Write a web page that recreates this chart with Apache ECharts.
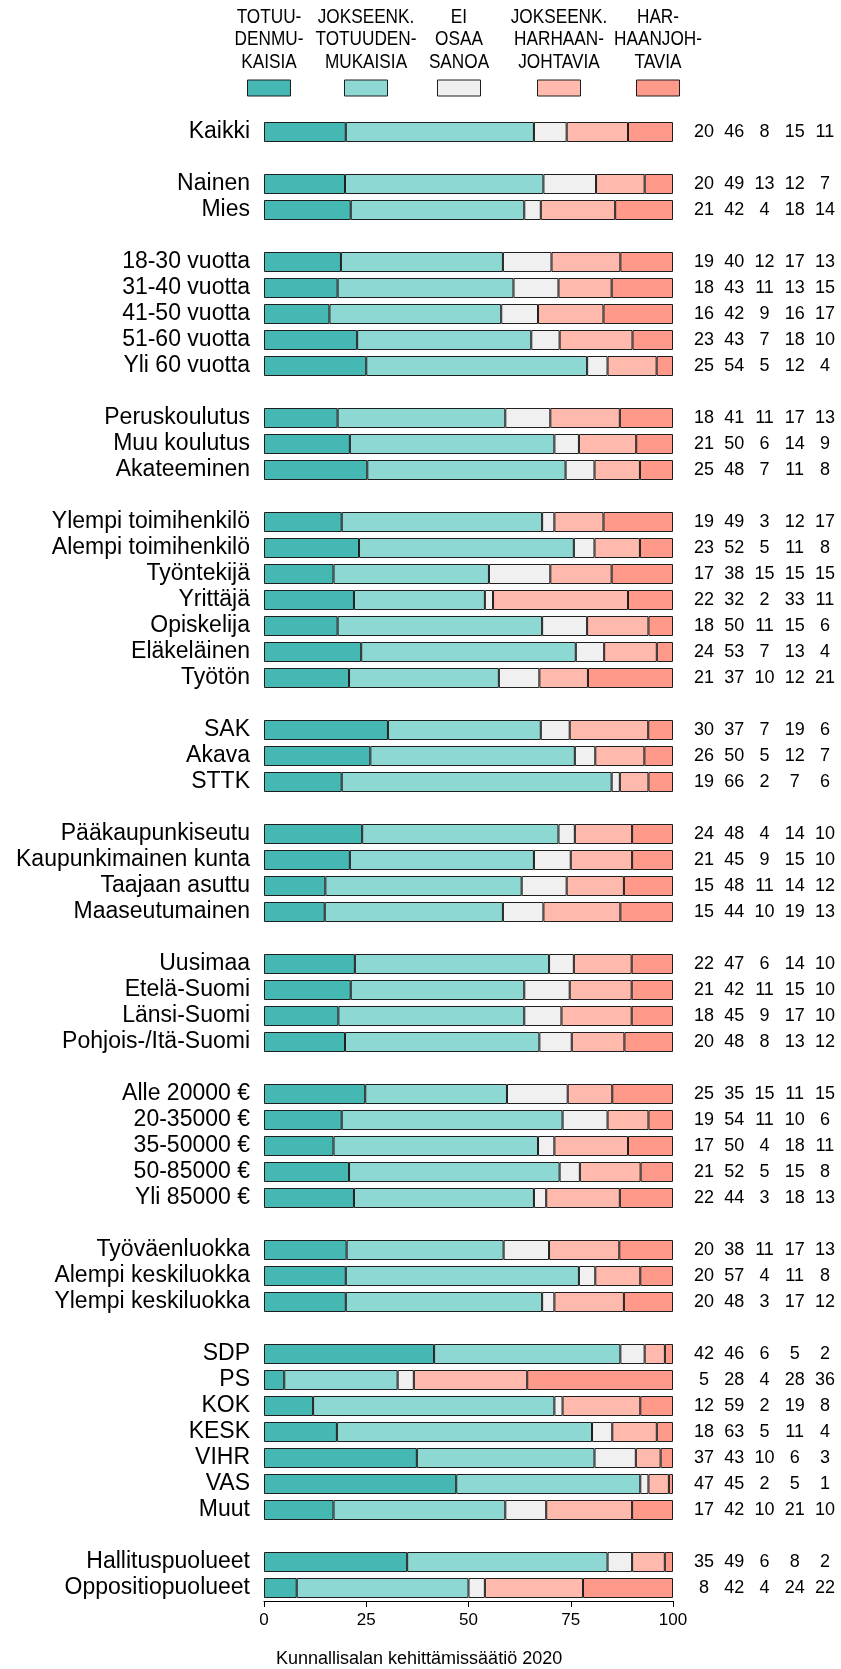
<!DOCTYPE html>
<html>
<head>
<meta charset="utf-8">
<script src="https://cdn.jsdelivr.net/npm/echarts@6/dist/echarts.min.js"></script>
<style>
html,body{margin:0;padding:0;background:#fff;}
#chart{width:841px;height:1669px;}
</style>
</head>
<body>
<div id="chart"></div>
<script>
// ---------- DATA ----------
const groupSizes = [1, 2, 5, 3, 7, 3, 4, 4, 5, 3, 7, 2];
const rowLabels = [
  'Kaikki',
  'Nainen', 'Mies',
  '18-30 vuotta', '31-40 vuotta', '41-50 vuotta', '51-60 vuotta', 'Yli 60 vuotta',
  'Peruskoulutus', 'Muu koulutus', 'Akateeminen',
  'Ylempi toimihenkilö', 'Alempi toimihenkilö', 'Työntekijä', 'Yrittäjä', 'Opiskelija', 'Eläkeläinen', 'Työtön',
  'SAK', 'Akava', 'STTK',
  'Pääkaupunkiseutu', 'Kaupunkimainen kunta', 'Taajaan asuttu', 'Maaseutumainen',
  'Uusimaa', 'Etelä-Suomi', 'Länsi-Suomi', 'Pohjois-/Itä-Suomi',
  'Alle 20000 €', '20-35000 €', '35-50000 €', '50-85000 €', 'Yli 85000 €',
  'Työväenluokka', 'Alempi keskiluokka', 'Ylempi keskiluokka',
  'SDP', 'PS', 'KOK', 'KESK', 'VIHR', 'VAS', 'Muut',
  'Hallituspuolueet', 'Oppositiopuolueet'
];
const totuudenmukaisia = [
  20,
  20, 21,
  19, 18, 16, 23, 25,
  18, 21, 25,
  19, 23, 17, 22, 18, 24, 21,
  30, 26, 19,
  24, 21, 15, 15,
  22, 21, 18, 20,
  25, 19, 17, 21, 22,
  20, 20, 20,
  42, 5, 12, 18, 37, 47, 17,
  35, 8
];
const jokseenkinTotuudenmukaisia = [
  46,
  49, 42,
  40, 43, 42, 43, 54,
  41, 50, 48,
  49, 52, 38, 32, 50, 53, 37,
  37, 50, 66,
  48, 45, 48, 44,
  47, 42, 45, 48,
  35, 54, 50, 52, 44,
  38, 57, 48,
  46, 28, 59, 63, 43, 45, 42,
  49, 42
];
const eiOsaaSanoa = [
  8,
  13, 4,
  12, 11, 9, 7, 5,
  11, 6, 7,
  3, 5, 15, 2, 11, 7, 10,
  7, 5, 2,
  4, 9, 11, 10,
  6, 11, 9, 8,
  15, 11, 4, 5, 3,
  11, 4, 3,
  6, 4, 2, 5, 10, 2, 10,
  6, 4
];
const jokseenkinHarhaanjohtavia = [
  15,
  12, 18,
  17, 13, 16, 18, 12,
  17, 14, 11,
  12, 11, 15, 33, 15, 13, 12,
  19, 12, 7,
  14, 15, 14, 19,
  14, 15, 17, 13,
  11, 10, 18, 15, 18,
  17, 11, 17,
  5, 28, 19, 11, 6, 5, 21,
  8, 24
];
const harhaanjohtavia = [
  11,
  7, 14,
  13, 15, 17, 10, 4,
  13, 9, 8,
  17, 8, 15, 11, 6, 4, 21,
  6, 7, 6,
  10, 10, 12, 13,
  10, 10, 10, 12,
  15, 6, 11, 8, 13,
  13, 8, 12,
  2, 36, 8, 4, 3, 1, 10,
  2, 22
];
const legendLabels = [
  'TOTUU-\nDENMU-\nKAISIA',
  'JOKSEENK.\nTOTUUDEN-\nMUKAISIA',
  'EI\nOSAA\nSANOA',
  'JOKSEENK.\nHARHAAN-\nJOHTAVIA',
  'HAR-\nHAANJOH-\nTAVIA'
];
const xTicks = [0, 25, 50, 75, 100];
const caption = 'Kunnallisalan kehittämissäätiö 2020';

// ---------- STYLE ----------
const colors = ['#45B8B4', '#8ED8D3', '#F0F0F0', '#FFBAAD', '#FF998A'];
const FONT = "'Liberation Sans', Arial, Helvetica, sans-serif";
const seriesValues = [totuudenmukaisia, jokseenkinTotuudenmukaisia, eiOsaaSanoa, jokseenkinHarhaanjohtavia, harhaanjohtavia];

// ---------- BUILD CATEGORIES WITH GAPS ----------
const yCats = [];
const rowSlot = [];
let r = 0;
groupSizes.forEach((g, gi) => {
  for (let i = 0; i < g; i++) { rowSlot.push(yCats.length); yCats.push(rowLabels[r]); r++; }
  if (gi < groupSizes.length - 1) yCats.push('__gap' + gi);
});

const rowSums = rowLabels.map((_, i) => seriesValues.reduce((s, arr) => s + arr[i], 0));

const barSeries = seriesValues.map((arr, k) => {
  const data = yCats.map(() => '-');
  arr.forEach((v, i) => { data[rowSlot[i]] = v * 100 / rowSums[i]; });
  return {
    type: 'bar', stack: 'total', name: 'S' + k,
    xAxisIndex: 0, yAxisIndex: 0,
    barWidth: 20,
    data: data,
    itemStyle: { color: colors[k], borderColor: '#1e1e1e', borderWidth: 1 },
    emphasis: { disabled: true },
    silent: true
  };
});

const numData = [];
seriesValues.forEach((arr, k) => {
  arr.forEach((v, i) => numData.push([k, rowSlot[i], v]));
});

const grids = { top: 119, height: yCats.length * 26 };

const legendGraphics = [];
const boxCenters = [269, 366, 459, 559, 658];
legendLabels.forEach((t, k) => {
  legendGraphics.push({
    type: 'text', x: boxCenters[k], y: 5.75, scaleX: 0.86,
    style: { text: t, textAlign: 'center', textVerticalAlign: 'top', fontSize: 20, lineHeight: 22.5, fontFamily: FONT, fill: '#000' }
  });
  legendGraphics.push({
    type: 'rect', shape: { x: boxCenters[k] - 21.5, y: 80, width: 43, height: 16 },
    style: { fill: colors[k], stroke: '#1e1e1e', lineWidth: 1 }
  });
});
legendGraphics.push({
  type: 'text', x: 276, y: 1659,
  style: { text: caption, textAlign: 'left', textVerticalAlign: 'middle', fontSize: 18, fontFamily: FONT, fill: '#000' }
});

const chart = echarts.init(document.getElementById('chart'), null, { renderer: 'canvas' });
chart.setOption({
  animation: false,
  backgroundColor: '#ffffff',
  textStyle: { fontFamily: FONT },
  grid: [
    { left: 264, top: grids.top, width: 409, height: grids.height },
    { left: 689, top: grids.top, width: 151, height: grids.height }
  ],
  xAxis: [
    {
      type: 'value', gridIndex: 0, min: xTicks[0], max: xTicks[xTicks.length - 1], interval: 25,
      axisLine: { show: true, lineStyle: { color: '#000', width: 1 } },
      axisTick: { show: true, length: 6, lineStyle: { color: '#000' } },
      axisLabel: { fontSize: 17, color: '#000', margin: 11, fontFamily: FONT },
      splitLine: { show: false }
    },
    { type: 'category', gridIndex: 1, data: ['c0', 'c1', 'c2', 'c3', 'c4'], show: false }
  ],
  yAxis: [
    {
      type: 'category', gridIndex: 0, inverse: true, data: yCats,
      axisLine: { show: false }, axisTick: { show: false }, splitLine: { show: false },
      axisLabel: {
        interval: 0, fontSize: 23, color: '#000', margin: 14, fontFamily: FONT,
        formatter: v => (v.indexOf('__gap') === 0 ? '' : v)
      }
    },
    { type: 'category', gridIndex: 1, inverse: true, data: yCats, show: false }
  ],
  series: barSeries.concat([{
    type: 'scatter', xAxisIndex: 1, yAxisIndex: 1,
    symbolSize: 1, itemStyle: { color: 'rgba(0,0,0,0)' },
    data: numData, silent: true,
    label: {
      show: true, position: 'inside', formatter: p => String(p.value[2]),
      fontSize: 18, color: '#000', opacity: 1, textBorderWidth: 0, fontFamily: FONT
    }
  }]),
  graphic: legendGraphics
});
</script>
</body>
</html>
